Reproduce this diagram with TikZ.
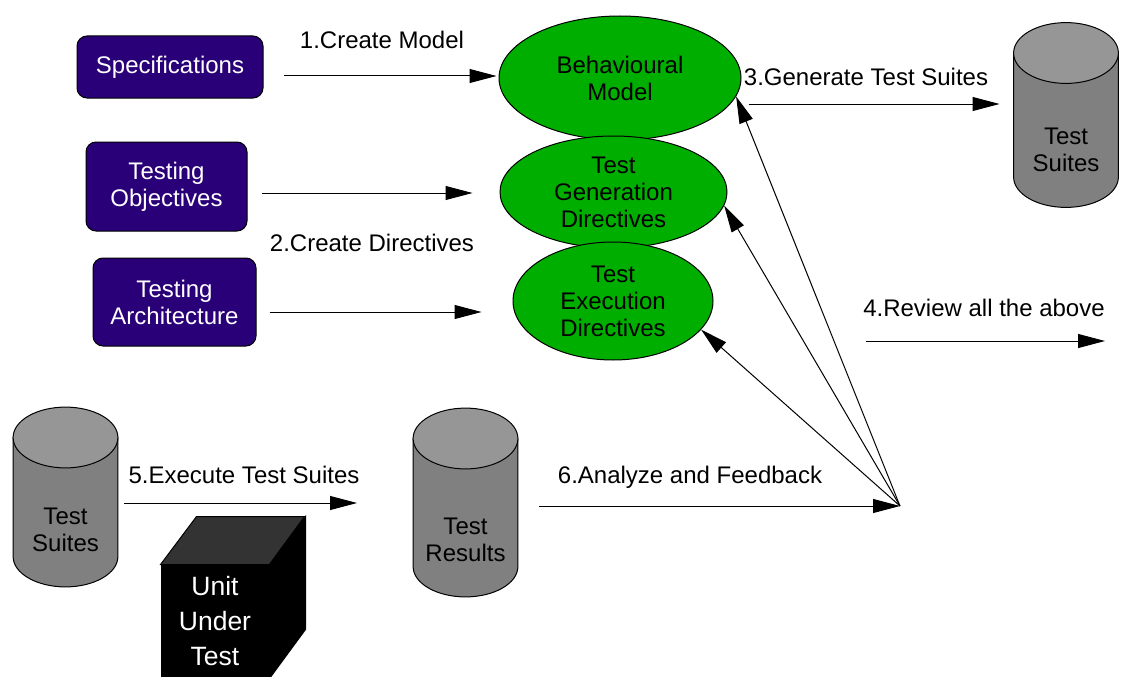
\documentclass[tikz,border=0pt]{standalone}
\usepackage{fontspec}
\setmainfont{Liberation Sans}
\usetikzlibrary{arrows.meta,shapes.geometric,calc}

\definecolor{specblue}{RGB}{42,0,120}
\definecolor{modelgreen}{RGB}{0,174,0}
\definecolor{cylbody}{RGB}{128,128,128}
\definecolor{cyltop}{RGB}{150,150,150}
\definecolor{cubetop}{RGB}{51,51,51}

\begin{document}
\begin{tikzpicture}[
                    x=1pt, y=-1pt,
                    >={Triangle[length=27pt,width=14pt]},
                    font=\fontsize{24}{27}\selectfont,
                    line width=1pt
                ]
                \tikzstyle{doc}=[draw=black,fill=specblue,text=white,rounded corners=10pt,align=center,inner sep=0pt]
                \tikzstyle{goal}=[ellipse,draw=black,fill=modelgreen,align=center,inner sep=0pt]
                % a grey drum drawn inside the node's box
                \tikzstyle{store}=[minimum width=106pt,inner sep=0pt,
                                   path picture={
                                     \filldraw[fill=cylbody]
                                       ($(path picture bounding box.north west)+(0.6,31)$)
                                       -- ($(path picture bounding box.south west)+(0.6,-31)$)
                                       arc[start angle=180,end angle=360,x radius=52.4pt,y radius=30.4pt]
                                       -- ($(path picture bounding box.north east)+(-0.6,31)$) -- cycle;
                                     \filldraw[fill=cyltop]
                                       ($(path picture bounding box.north)+(0,31)$)
                                       ellipse[x radius=52.4pt,y radius=30.4pt];
                                   }]
                \tikzstyle{flow}=[->]
                \tikzstyle{tag}=[inner sep=0pt]

                \useasboundingbox (0,0) rectangle (1122,677);

                % inputs
                \node[doc,minimum width=186pt,minimum height=62pt] (spec) at (170,67)    {Specifications} ;
                \node[doc,minimum width=161pt,minimum height=89pt] (obj)  at (166.5,186.5) {Testing\\Objectives} ;
                \node[doc,minimum width=163pt,minimum height=88pt] (arch) at (174.5,302) {Testing\\Architecture} ;

                % models and directives
                \node[goal,minimum width=242pt,minimum height=124pt] (model) at (620,78)    {Behavioural\\Model} ;
                \node[goal,minimum width=227pt,minimum height=112pt] (gen)   at (613.5,192) {Test\\Generation\\Directives} ;
                \node[goal,minimum width=200pt,minimum height=118pt] (exec)  at (613,301)   {Test\\Execution\\Directives} ;

                % test suites and results
                \node[store,minimum height=186pt,label={[tag,align=center,yshift=-35pt]center:Test\\Suites}]  (suitesR) at (1066,115)   {} ;
                \node[store,minimum height=181pt,label={[tag,align=center,yshift=-33pt]center:Test\\Suites}]  (suitesL) at (65.5,497)   {} ;
                \node[store,minimum height=190pt,label={[tag,align=center,yshift=-37pt]center:Test\\Results}] (results) at (465.5,502.5) {} ;

                % unit under test
                \node[fill=black,text=white,draw=black,align=center,minimum width=108pt,minimum height=113pt,
                      font=\fontsize{26.5}{35}\selectfont] (uut) at (215,621.5) {Unit\\Under\\Test} ;
                \filldraw[fill=cubetop] (uut.north west) -- ++(36,-48) -- ++(108,0) -- (uut.north east) -- cycle;
                \filldraw[fill=black] (uut.north east) -- ++(36,-48) -- ++(0,113) -- (uut.south east) -- cycle;

                \coordinate (fb) at (900,506);
                \coordinate (rv1) at (866,341);
                \coordinate (rv2) at (1105,341);

                \path[flow]
                ($(spec.east)+(20,9)$)     edge ($(model.west)+(-2,-2)$)
                ($(obj.east)+(14,6.5)$)    edge ($(gen.west)+(-27,1)$)
                ($(arch.east)+(13,10)$)    edge ($(exec.west)+(-31,11)$)
                ($(model.east)+(7,26)$)    edge ($(suitesR.west)+(-13,-11)$)
                (rv1)                      edge (rv2)
                ($(suitesL.east)+(5,6)$)   edge ($(results.west)+(-55,0.5)$)
                ($(results.east)+(20,3.5)$) edge (fb)
                (fb)                       edge (model.-9)
                (fb)                       edge (gen.-7)
                (fb)                       edge (exec.-18)
                ;

                % step labels
                \node[tag] (l1) at (382,40)  {1.Create Model} ;
                \node[tag] (l2) at (372,243) {2.Create Directives} ;
                \node[tag] (l3) at (866,77)  {3.Generate Test Suites} ;
                \node[tag] (l4) at (984,308) {4.Review all the above} ;
                \node[tag] (l5) at (244,475) {5.Execute Test Suites} ;
                \node[tag] (l6) at (690,477) {6.Analyze and Feedback} ;
\end{tikzpicture}
\end{document}
